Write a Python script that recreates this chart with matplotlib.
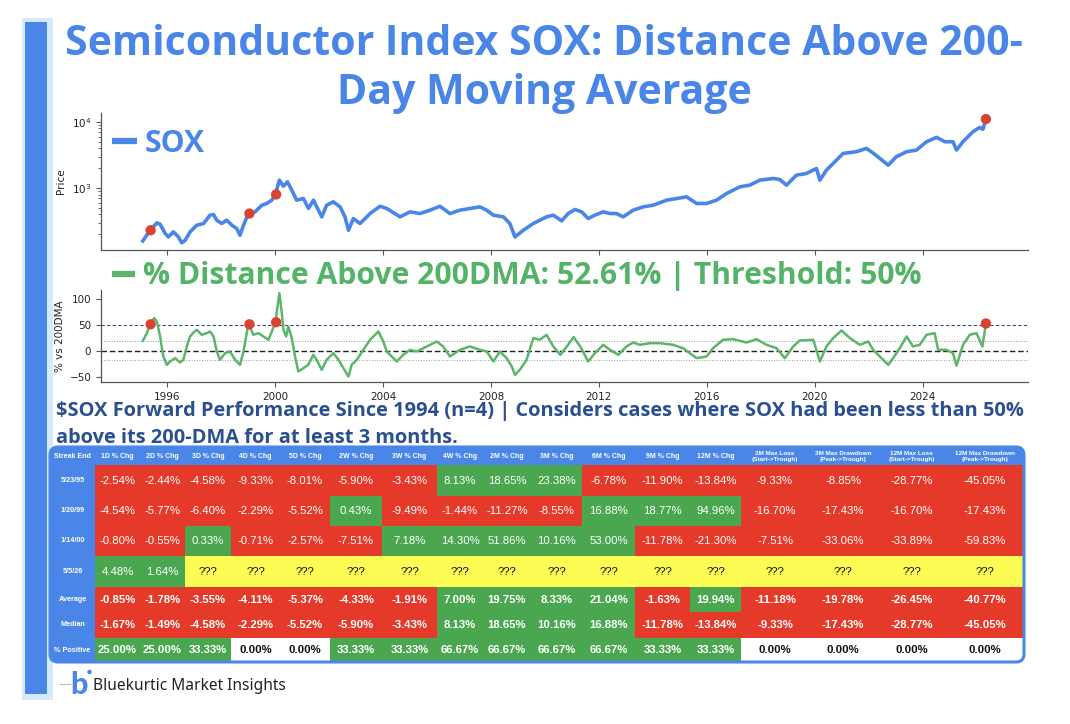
import numpy as np
import matplotlib
matplotlib.use("Agg")
import matplotlib.pyplot as plt
from matplotlib.patches import Rectangle, FancyBboxPatch, Circle
from matplotlib.lines import Line2D

# ---------------- data ----------------
price_years = [1995.10, 1995.37, 1995.62, 1995.74, 1995.93, 1996.05, 1996.23, 1996.42, 1996.54, 1996.67,
               1996.85, 1997.10, 1997.35, 1997.59, 1997.72, 1997.84, 1998.02, 1998.21, 1998.40, 1998.58,
               1998.70, 1998.83, 1999.01, 1999.26, 1999.51, 1999.69, 1999.88, 2000.01, 2000.16, 2000.31,
               2000.46, 2000.62, 2000.80, 2001.05, 2001.24, 2001.42, 2001.73, 2001.91, 2002.16, 2002.41,
               2002.59, 2002.72, 2002.90, 2003.15, 2003.52, 2003.89, 2004.14, 2004.63, 2005.00, 2005.37,
               2005.74, 2006.11, 2006.48, 2006.85, 2007.22, 2007.59, 2007.84, 2008.09, 2008.46, 2008.70,
               2008.89, 2009.20, 2009.57, 2009.81, 2010.06, 2010.31, 2010.62, 2010.86, 2011.11, 2011.36,
               2011.60, 2011.85, 2012.16, 2012.41, 2012.65, 2012.90, 2013.27, 2013.64, 2014.01, 2014.51,
               2014.88, 2015.25, 2015.62, 2015.99, 2016.36, 2016.73, 2017.22, 2017.59, 2017.96, 2018.46,
               2018.70, 2018.95, 2019.32, 2019.69, 2020.06, 2020.19, 2020.43, 2020.68, 2021.05, 2021.54,
               2021.91, 2022.16, 2022.41, 2022.72, 2023.02, 2023.40, 2023.77, 2024.14, 2024.51, 2024.82,
               2025.12, 2025.25, 2025.49, 2025.86, 2026.11, 2026.23, 2026.34]
price_values = [159, 231, 298, 285, 206, 183, 218, 183, 149, 163,
                218, 275, 292, 390, 399, 327, 292, 327, 275, 245,
                194, 275, 413, 438, 552, 586, 658, 802, 1321, 1072,
                1247, 933, 658, 697, 492, 658, 368, 552, 621, 521,
                368, 231, 347, 292, 413, 533, 492, 368, 438, 413,
                464, 533, 413, 464, 492, 521, 464, 390, 368, 292,
                183, 231, 292, 327, 368, 390, 320, 413, 475, 438,
                347, 390, 438, 413, 413, 368, 464, 521, 552, 658,
                697, 739, 586, 586, 658, 830, 1047, 1110, 1321, 1400,
                1352, 1110, 1573, 1667, 1985, 1321, 1873, 2365, 3352, 3556,
                3994, 3400, 2818, 2229, 2988, 3556, 3768, 5034, 5866, 5034,
                5034, 3768, 5034, 7134, 8300, 7746, 11100]

dist_years = [1995.10, 1995.25, 1995.37, 1995.52, 1995.62, 1995.74, 1995.86, 1995.99, 1996.11, 1996.30,
              1996.48, 1996.60, 1996.73, 1996.85, 1996.98, 1997.10, 1997.28, 1997.47, 1997.59, 1997.72,
              1997.84, 1997.96, 1998.15, 1998.33, 1998.52, 1998.70, 1998.83, 1999.01, 1999.20, 1999.38,
              1999.57, 1999.75, 1999.88, 2000.01, 2000.16, 2000.25, 2000.31, 2000.41, 2000.49, 2000.62,
              2000.74, 2000.86, 2001.05, 2001.23, 2001.42, 2001.54, 2001.73, 2001.91, 2002.16, 2002.35,
              2002.53, 2002.72, 2002.84, 2003.03, 2003.27, 2003.52, 2003.83, 2004.01, 2004.14, 2004.32,
              2004.51, 2004.75, 2005.00, 2005.25, 2005.62, 2005.99, 2006.23, 2006.48, 2006.85, 2007.22,
              2007.59, 2007.84, 2008.09, 2008.33, 2008.58, 2008.77, 2008.89, 2009.07, 2009.32, 2009.57,
              2009.81, 2010.06, 2010.31, 2010.57, 2010.81, 2011.06, 2011.31, 2011.60, 2011.85, 2012.16,
              2012.41, 2012.72, 2013.02, 2013.27, 2013.52, 2013.89, 2014.26, 2014.75, 2015.12, 2015.62,
              2015.99, 2016.23, 2016.60, 2016.97, 2017.47, 2017.84, 2018.21, 2018.58, 2018.89, 2019.20,
              2019.44, 2019.94, 2020.19, 2020.43, 2020.68, 2020.99, 2021.30, 2021.67, 2021.98, 2022.16,
              2022.41, 2022.72, 2022.90, 2023.15, 2023.40, 2023.64, 2023.89, 2024.14, 2024.44, 2024.57,
              2024.88, 2025.12, 2025.25, 2025.49, 2025.74, 2025.99, 2026.21, 2026.34]
dist_values = [19.2, 34.0, 51.3, 62.8, 56.4, 27.6, -10.9, -26.9, -20.5, -14.1,
               -22.4, -17.3, 8.3, 27.6, 35.3, 40.4, 30.8, 34.0, 37.2, 27.6,
               -1.3, -17.3, -4.5, -1.3, -17.3, -26.9, -1.3, 51.3, 30.8, 34.0,
               27.6, 21.2, 37.2, 55.1, 110.9, 72.4, 40.4, 27.6, 46.8, 24.4,
               -10.9, -39.7, -33.3, -26.9, -7.7, -17.3, -36.5, -17.3, -4.5, -17.3,
               -33.3, -49.4, -26.9, -17.3, 1.9, 21.2, 37.2, 17.9, -1.3, -10.9,
               -20.5, -7.7, 1.9, -1.3, 8.3, 17.9, 8.3, -10.9, 1.9, 8.3,
               1.9, -1.3, -20.5, -1.3, -14.1, -30.1, -46.2, -36.5, -17.3, 24.4,
               21.2, 30.8, 8.3, -7.7, 8.3, 26.3, 8.3, -20.5, -4.5, 11.5,
               1.9, -7.7, 8.3, 16.0, 11.5, 14.7, 14.7, 11.5, 5.1, -14.1,
               -10.9, 5.1, 21.2, 22.4, 16.0, 22.4, 11.5, 5.1, -14.1, 8.3,
               19.9, 21.2, -20.5, 8.3, 24.4, 39.1, 24.4, 11.5, 17.9, 1.9,
               -10.9, -26.9, -14.1, 5.1, 27.6, 8.3, 11.5, 30.8, 34.0, 1.9,
               1.9, -4.5, -28.8, 11.5, 30.8, 34.0, 8.3, 52.61]

signal_years = [1995.39, 1999.05, 2000.04, 2026.34]
signal_prices = [231, 413, 803, 11100]
signal_dists = [51, 51, 55, 52.61]

threshold = 50
band_hi = 19
band_lo = -18
x_ticks = [1996, 2000, 2004, 2008, 2012, 2016, 2020, 2024]

col_headers = ["Streak End", "1D % Chg", "2D % Chg", "3D % Chg", "4D % Chg", "5D % Chg",
               "2W % Chg", "3W % Chg", "4W % Chg", "2M % Chg", "3M % Chg", "6M % Chg",
               "9M % Chg", "12M % Chg", "3M Max Loss\n(Start->Trough)",
               "3M Max Drawdown\n(Peak->Trough)", "12M Max Loss\n(Start->Trough)",
               "12M Max Drawdown\n(Peak->Trough)"]
row_labels = ["5/23/95", "1/20/99", "1/14/00", "5/5/26", "Average", "Median", "% Positive"]
r_1995 = [-2.54, -2.44, -4.58, -9.33, -8.01, -5.90, -3.43, 8.13, 18.65, 23.38, -6.78, -11.90, -13.84,
          -9.33, -8.85, -28.77, -45.05]
r_1999 = [-4.54, -5.77, -6.40, -2.29, -5.52, 0.43, -9.49, -1.44, -11.27, -8.55, 16.88, 18.77, 94.96,
          -16.70, -17.43, -16.70, -17.43]
r_2000 = [-0.80, -0.55, 0.33, -0.71, -2.57, -7.51, 7.18, 14.30, 51.86, 10.16, 53.00, -11.78, -21.30,
          -7.51, -33.06, -33.89, -59.83]
r_2026 = [4.48, 1.64, None, None, None, None, None, None, None, None, None, None, None,
          None, None, None, None]
r_avg = [-0.85, -1.78, -3.55, -4.11, -5.37, -4.33, -1.91, 7.00, 19.75, 8.33, 21.04, -1.63, 19.94,
         -11.18, -19.78, -26.45, -40.77]
r_med = [-1.67, -1.49, -4.58, -2.29, -5.52, -5.90, -3.43, 8.13, 18.65, 10.16, 16.88, -11.78, -13.84,
         -9.33, -17.43, -28.77, -45.05]
r_pos = [25.00, 25.00, 33.33, 0.00, 0.00, 33.33, 33.33, 66.67, 66.67, 66.67, 66.67, 33.33, 33.33,
         0.00, 0.00, 0.00, 0.00]

title_l1 = "Semiconductor Index SOX: Distance Above 200-"
title_l2 = "Day Moving Average"
sub_l1 = r"\$SOX Forward Performance Since 1994 (n=4) | Considers cases where SOX had been less than 50%"
sub_l2 = "above its 200-DMA for at least 3 months."
legend1 = "SOX"
legend2 = "% Distance Above 200DMA: 52.61% | Threshold: 50%"
footer = "Bluekurtic Market Insights"

# ---------------- style ----------------
W, H = 1070, 724
BLUE = '#4a86e8'
LINE_GREEN = '#5cb56a'
TXT_GREEN = '#55b368'
DOT = '#d9432f'
NAVY = '#2c4f8f'
CRED = '#e5392a'
CGREEN = '#4aa74f'
CYEL = '#fcfc55'
HDR = '#4a86e8'

fig = plt.figure(figsize=(W / 100, H / 100), dpi=100)
fig.patch.set_facecolor('white')


def box(x0, y0, x1, y1):
    return [x0 / W, 1 - y1 / H, (x1 - x0) / W, (y1 - y0) / H]


def style_axis(ax):
    for s in ['top', 'right']:
        ax.spines[s].set_visible(False)
    for s in ['left', 'bottom']:
        ax.spines[s].set_color('#555555')
        ax.spines[s].set_linewidth(0.9)
    ax.tick_params(labelsize=7.5, length=3.5, width=0.8, color='#555555', labelcolor='#222222')
    ax.set_facecolor('none')


# price panel
ax1 = fig.add_axes(box(101, 113, 1028, 250))
ax1.plot(price_years, price_values, color=BLUE, lw=2.6, solid_joinstyle='round')
ax1.scatter(signal_years, signal_prices, s=55, color=DOT, zorder=5, edgecolors='none')
ax1.set_yscale('log')
ax1.set_ylim(116, 13700)
ax1.set_xlim(1993.55, 2027.9)
ax1.set_xticks(x_ticks)
ax1.tick_params(axis='x', labelbottom=False)
style_axis(ax1)
ax1.tick_params(axis='y', which='minor', length=2, width=0.6, color='#555555')
ax1.set_ylabel('Price', fontsize=7.5, color='#222222', labelpad=4)

# distance panel
ax2 = fig.add_axes(box(101, 290, 1028, 382))
ax2.axhline(threshold, color='#3d4f80', ls=(0, (3, 2)), lw=0.8)
ax2.axhline(0, color='#222222', ls=(0, (4, 2)), lw=1.0)
ax2.axhline(band_hi, color='#999999', ls=':', lw=0.7)
ax2.axhline(band_lo, color='#999999', ls=':', lw=0.7)
ax2.plot(dist_years, dist_values, color=LINE_GREEN, lw=1.8, solid_joinstyle='round')
ax2.scatter(signal_years, signal_dists, s=55, color=DOT, zorder=5, edgecolors='none')
ax2.set_xlim(1993.55, 2027.9)
ax2.set_ylim(-60, 117)
ax2.set_xticks(x_ticks)
ax2.set_yticks([-50, 0, 50, 100])
style_axis(ax2)
ax2.set_ylabel('% vs 200DMA', fontsize=7.5, color='#222222', labelpad=3)

# overlay in pixel coordinates
ov = fig.add_axes([0, 0, 1, 1])
ov.set_xlim(0, W)
ov.set_ylim(H, 0)
ov.axis('off')
ov.set_zorder(10)
ov.patch.set_alpha(0)

renderer = fig.canvas.get_renderer()


def fit(t, width):
    bb = t.get_window_extent(renderer=renderer)
    t.set_fontsize(t.get_fontsize() * width / bb.width)
    return t.get_fontsize()


# left strip
ov.add_patch(Rectangle((22, 18), 31, 682, color='#d5eafb', lw=0))
ov.add_patch(Rectangle((25, 22), 22, 672, color=BLUE, lw=0))

# title
t1 = ov.text(543.5, 55, title_l1, ha='center', va='baseline', fontsize=27,
             fontweight='bold', family='Open Sans', color=BLUE)
fs = fit(t1, 957)
ov.text(544, 104, title_l2, ha='center', va='baseline', fontsize=fs,
        fontweight='bold', family='Open Sans', color=BLUE)

# legends
ov.add_line(Line2D([112, 137], [141, 141], color=BLUE, lw=4.5, solid_capstyle='butt'))
lt1 = ov.text(145, 152, legend1, ha='left', va='baseline', fontsize=22, fontweight='bold',
              family='Open Sans', color=BLUE)
fit(lt1, 60)
ov.add_line(Line2D([112, 135], [274, 274], color=LINE_GREEN, lw=4.5, solid_capstyle='butt'))
lt2 = ov.text(143, 284, legend2, ha='left', va='baseline', fontsize=22, fontweight='bold',
              family='Open Sans', color=TXT_GREEN)
fit(lt2, 777)

# subtitle
s1 = ov.text(56, 416, sub_l1, ha='left', va='baseline', fontsize=13, fontweight='bold',
             family='Open Sans', color=NAVY)
fs2 = fit(s1, 964)
ov.text(56, 443, sub_l2, ha='left', va='baseline', fontsize=fs2, fontweight='bold',
        family='Open Sans', color=NAVY)

# ---------------- table ----------------
col_edges = [50, 95, 140, 185, 231, 280, 330, 382, 437, 483, 531, 582, 635, 690, 741, 809, 877, 946, 1024]
row_edges = [447, 465, 496, 526, 556, 587, 612, 638, 662]
rows = [r_1995, r_1999, r_2000, r_2026, r_avg, r_med, r_pos]

border = FancyBboxPatch((col_edges[0], row_edges[0]), col_edges[-1] - col_edges[0],
                        row_edges[-1] - row_edges[0], boxstyle='round,pad=0,rounding_size=8',
                        fc='none', ec=BLUE, lw=2.2, zorder=5)
ov.add_patch(border)

hdr = Rectangle((col_edges[0], row_edges[0]), col_edges[-1] - col_edges[0], row_edges[1] - row_edges[0],
                color=HDR, lw=0, zorder=1)
ov.add_patch(hdr)
hdr.set_clip_path(border)
lab = Rectangle((col_edges[0], row_edges[1]), col_edges[1] - col_edges[0], row_edges[-1] - row_edges[1],
                color=HDR, lw=0, zorder=1)
ov.add_patch(lab)
lab.set_clip_path(border)

for j, h in enumerate(col_headers):
    cx = (col_edges[j] + col_edges[j + 1]) / 2
    cy = (row_edges[0] + row_edges[1]) / 2
    ov.text(cx, cy + 0.5, h, ha='center', va='center', fontsize=5.0 if '\n' not in h else 4.6,
            fontweight='bold', family='Liberation Sans', color='white', zorder=3,
            linespacing=1.05)

for i, (lbl, vals) in enumerate(zip(row_labels, rows)):
    y0, y1 = row_edges[i + 1], row_edges[i + 2]
    cy = (y0 + y1) / 2
    ov.text((col_edges[0] + col_edges[1]) / 2, cy, lbl, ha='center', va='center', fontsize=5.2,
            fontweight='bold', family='Liberation Sans', color='white', zorder=3)
    summary = i >= 4
    for j, v in enumerate(vals):
        x0, x1 = col_edges[j + 1], col_edges[j + 2]
        if v is None:
            fc, txt, tc, fw = CYEL, '???', '#111111', 'normal'
        elif i == 6 and v == 0:
            fc, txt, tc, fw = 'white', f'{v:.2f}%', '#111111', 'bold'
        else:
            fc = CGREEN if v > 0 else CRED
            txt, tc, fw = f'{v:.2f}%', 'white', ('bold' if summary else 'normal')
        r = Rectangle((x0, y0), x1 - x0, y1 - y0, color=fc, lw=0, zorder=1)
        ov.add_patch(r)
        r.set_clip_path(border)
        ov.text((x0 + x1) / 2, cy + 0.3, txt, ha='center', va='center', fontsize=8.2,
                fontweight=fw, family='Liberation Sans', color=tc, zorder=3)

# ---------------- footer ----------------
ov.add_line(Line2D([60, 70], [684, 684], color='#bbbbbb', lw=0.8))
ov.text(79, 694, 'b', ha='center', va='baseline', fontsize=22, fontweight='black',
        family='Lato', color=BLUE)
ov.add_patch(Circle((89.5, 672), 2.2, color=BLUE, lw=0))
ft = ov.text(93, 690, footer, ha='left', va='baseline', fontsize=11, family='Noto Sans',
             color='#222222')
fit(ft, 192)

fig.savefig('out.png', dpi=100, facecolor='white')
